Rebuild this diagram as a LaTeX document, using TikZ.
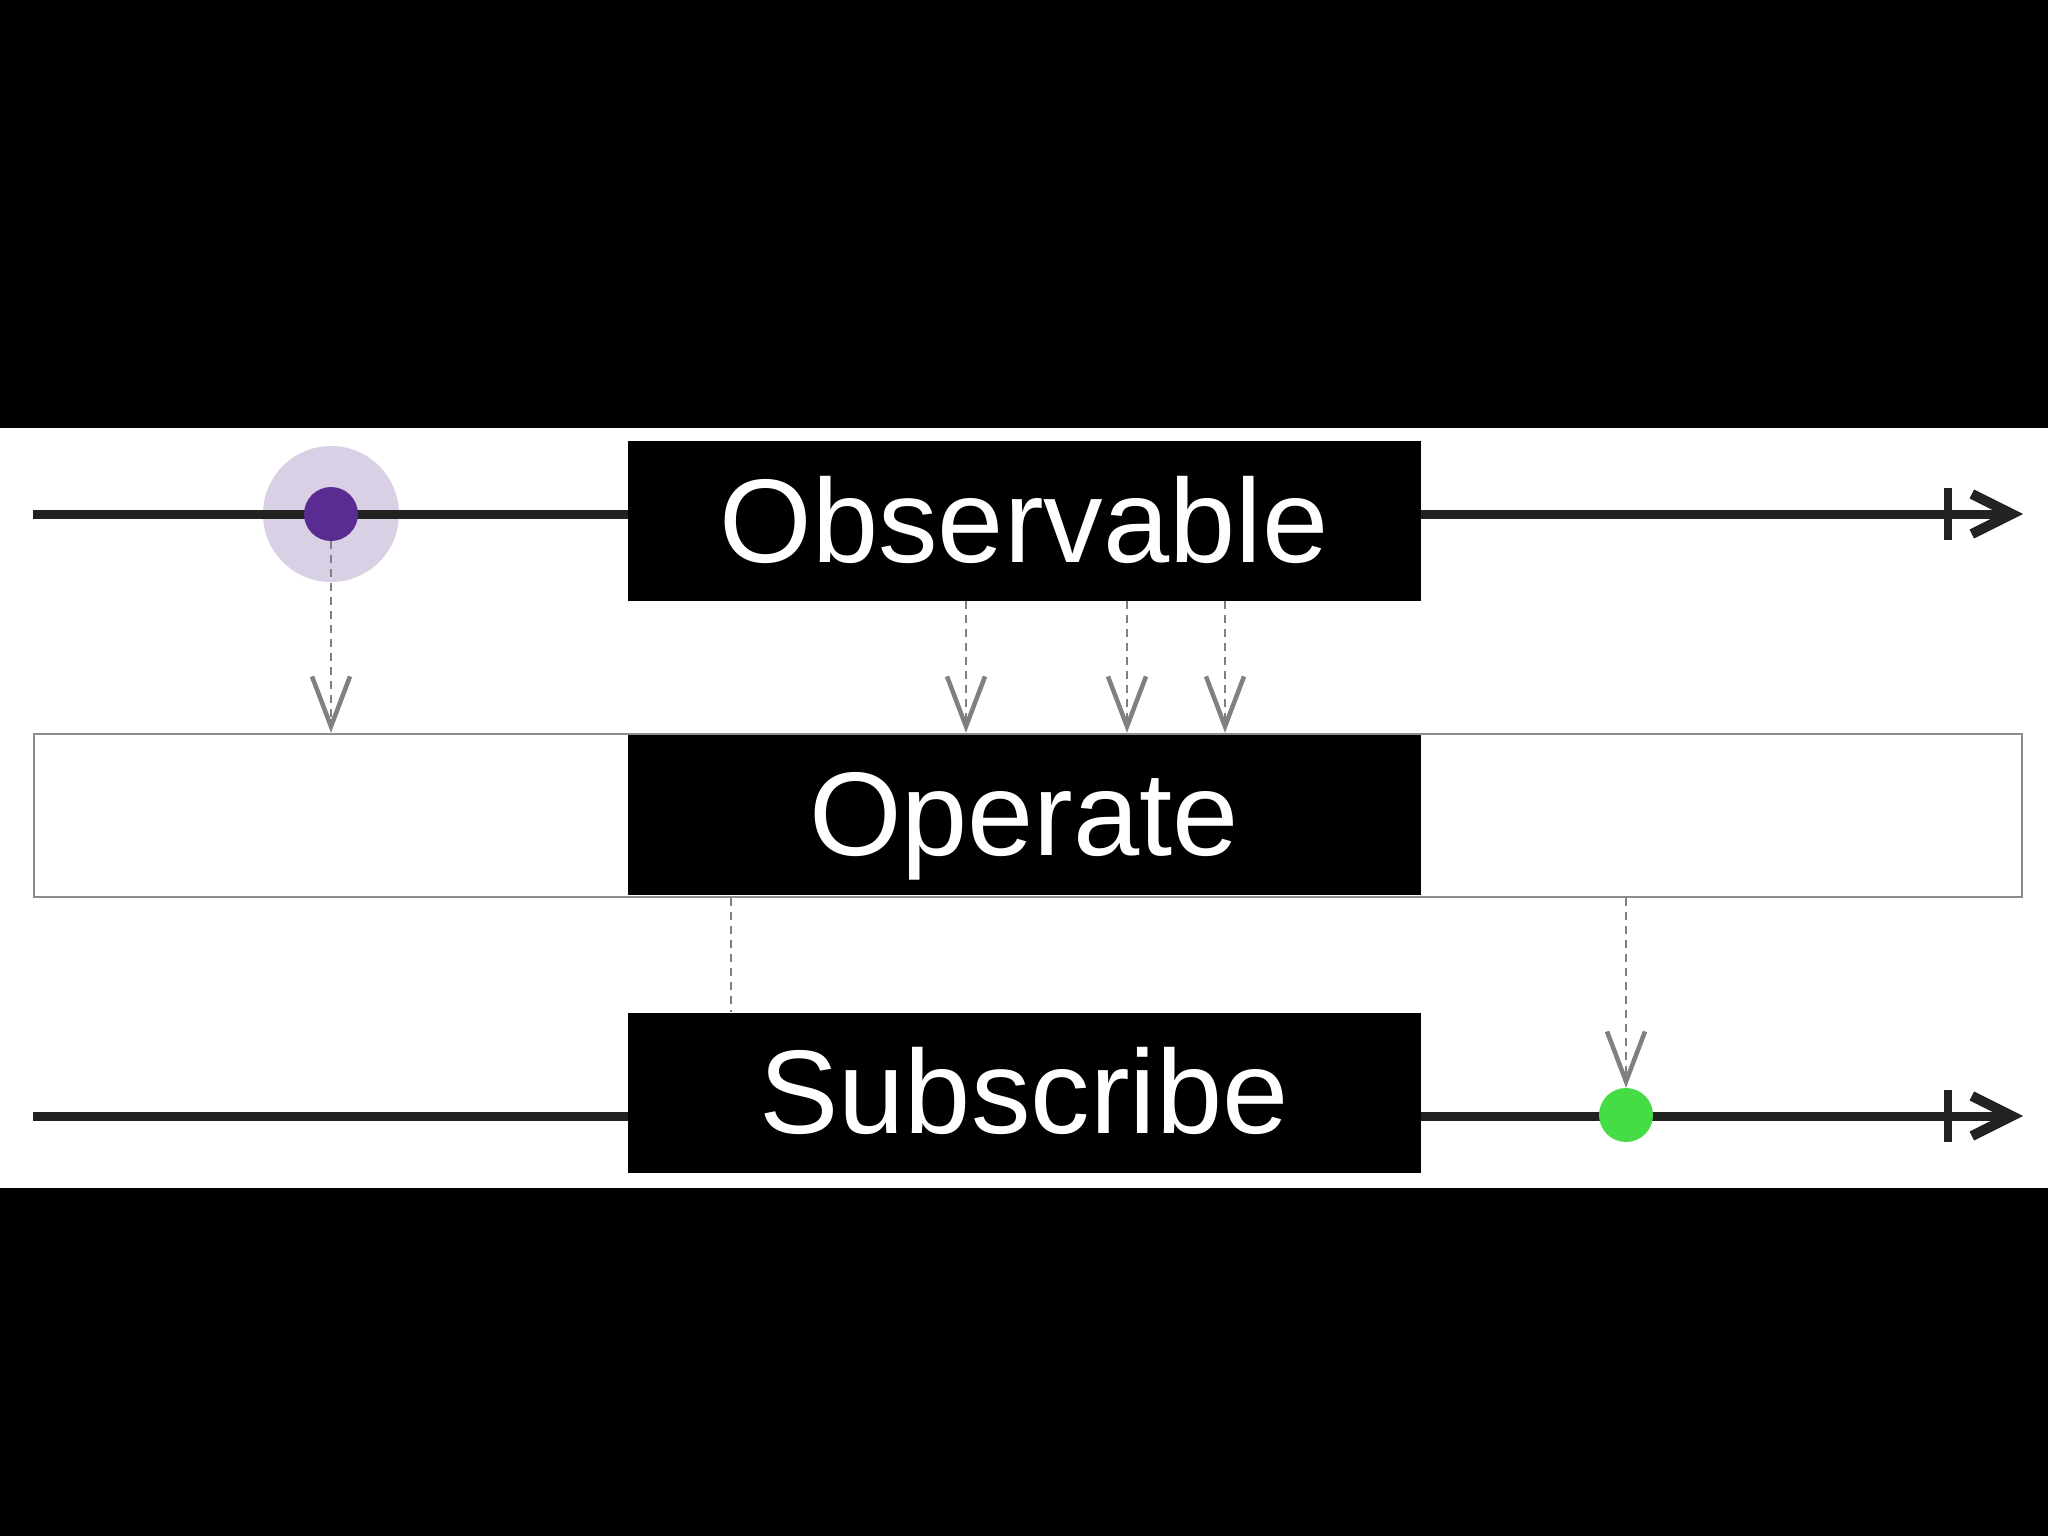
\documentclass[tikz,border=0pt]{standalone}
\usepackage{fontspec}
\setmainfont{Liberation Sans}
\usetikzlibrary{arrows.meta}
\definecolor{linecol}{RGB}{34,34,34}
\definecolor{flowgray}{RGB}{128,128,128}
\definecolor{bandgray}{RGB}{140,140,140}
\definecolor{halo}{RGB}{218,208,230}
\definecolor{purpledot}{RGB}{90,44,145}
\definecolor{greendot}{RGB}{70,220,70}
\begin{document}
\begin{tikzpicture}[x=1pt,y=-1pt,
  timeline/.style={draw=linecol,line width=9pt},
  timetip/.style={-{Straight Barb[length=40pt,width=40pt,line width=10pt]}},
  tickmark/.style={draw=linecol,line width=8pt},
  labelbox/.style={fill=black,text=white,minimum width=793pt,minimum height=160pt,inner sep=0pt,
    text height=82pt,text depth=0pt,font=\fontsize{119}{119}\selectfont},
  flow/.style={draw=flowgray,line width=2.5pt,dash pattern=on 8pt off 6pt},
  flowarrow/.style={flow,-{Straight Barb[length=50pt,width=38pt,line width=4.5pt]}},
  dot/.style={circle,inner sep=0pt,minimum size=54pt}]
\fill[black] (0,0) rectangle (2048,1536);
\useasboundingbox (0,0) rectangle (2048,1536);
\fill[white] (0,428) rectangle (2048,1188);
% operate band
\node[draw=bandgray,line width=2.5pt,fill=white,minimum width=1988pt,minimum height=163pt,inner sep=0pt] (band) at (1028,815.5) {};
% halo behind the top timeline
\node[circle,fill=halo,inner sep=0pt,minimum size=136pt] (haloc) at (331,514) {};
% top timeline
\coordinate (t0) at (33,514);
\coordinate (t1) at (2023,514);
\coordinate (tick1) at (1948,514);
\draw[timeline,timetip] (t0) -- (t1);
\draw[tickmark] ([yshift=26pt]tick1) -- ([yshift=-26pt]tick1);
% bottom timeline
\coordinate (b0) at (33,1116);
\coordinate (b1) at (2023,1116);
\coordinate (tick2) at (1948,1116);
\draw[timeline,timetip] (b0) -- (b1);
\draw[tickmark] ([yshift=26pt]tick2) -- ([yshift=-26pt]tick2);
% dots
\node[dot,fill=purpledot] (pdot) at (haloc.center) {};
\node[dot,fill=greendot] (gdot) at (1626,1115) {};
% boxes
\node[labelbox] (obs) at (1024,521) {Observable};
\node[labelbox] (op) at (1024,814.5) {Operate};
\node[labelbox] (sub) at (1024,1092.5) {Subscribe};
% flows
\coordinate (c1) at (966,0);
\coordinate (c2) at (1127,0);
\coordinate (c3) at (1225,0);
\coordinate (c4) at (731,0);
\draw[flowarrow] (pdot.south) -- (band.north -| pdot.south);
\draw[flowarrow] (obs.south -| c1) -- (band.north -| c1);
\draw[flowarrow] (obs.south -| c2) -- (band.north -| c2);
\draw[flowarrow] (obs.south -| c3) -- (band.north -| c3);
\draw[flow] (band.south -| c4) -- (sub.north -| c4);
\draw[flowarrow] (band.south -| gdot.north) -- (gdot.north);
\end{tikzpicture}
\end{document}
